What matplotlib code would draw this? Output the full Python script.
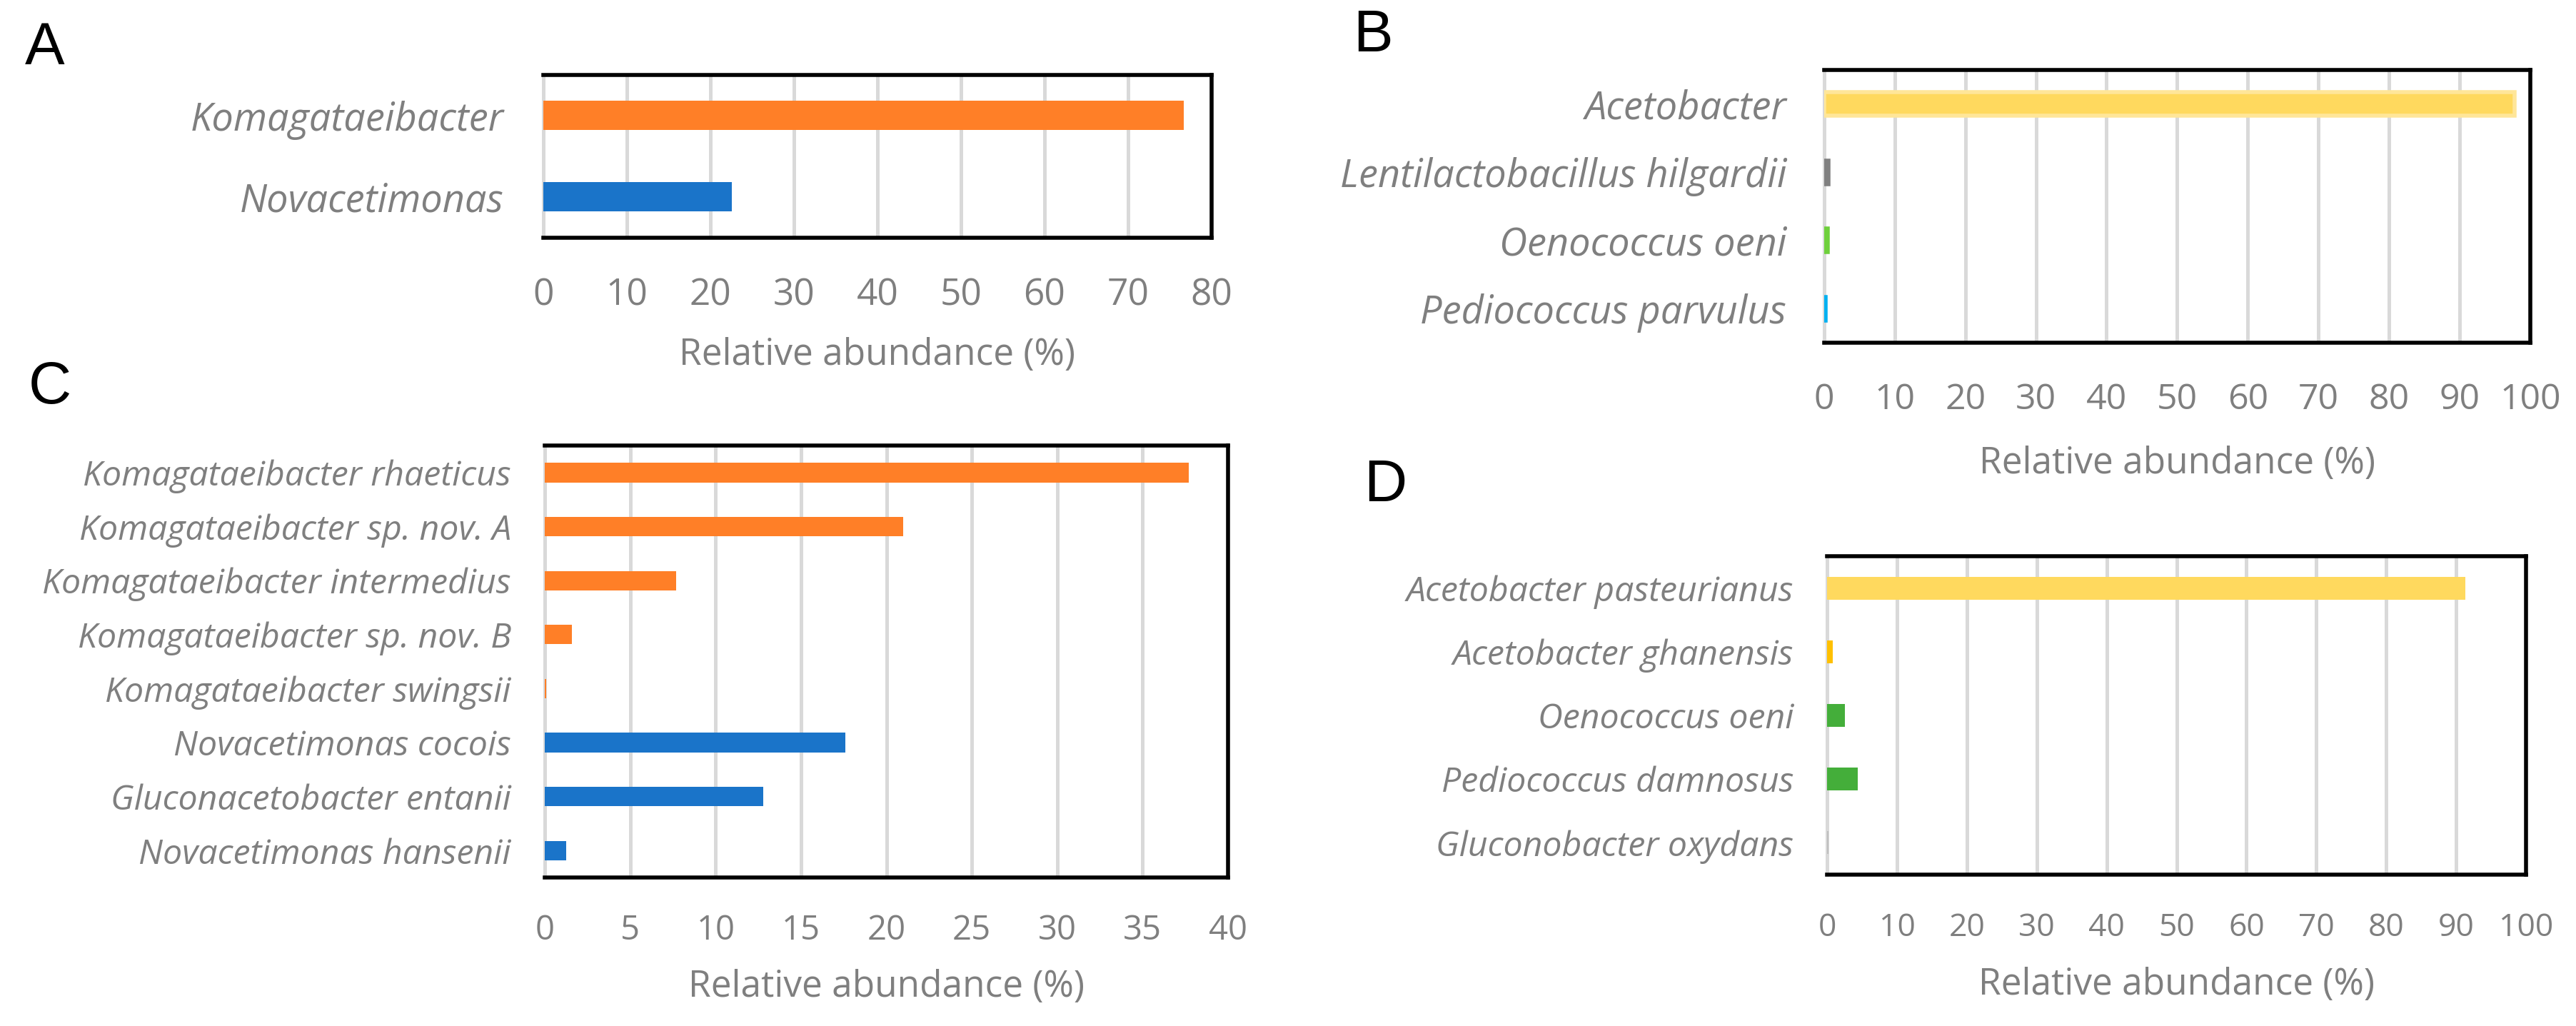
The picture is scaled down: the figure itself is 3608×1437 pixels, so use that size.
import matplotlib
matplotlib.use('Agg')
from matplotlib import pyplot as plt

# panel A
a_names = ['Komagataeibacter', 'Novacetimonas']
a_values = [76.7, 22.6]
a_colors = ['#FF7F27', '#1A74C9']

# panel B
b_names = ['Acetobacter', 'Lentilactobacillus hilgardii', 'Oenococcus oeni', 'Pediococcus parvulus']
b_values = [97.8, 0.6, 0.5, 0.2]
b_colors = ['#FFD95E', '#808080', '#6FD03C', '#00B0F0']

# panel C
c_names = ['Komagataeibacter rhaeticus', 'Komagataeibacter sp. nov. A', 'Komagataeibacter intermedius',
           'Komagataeibacter sp. nov. B', 'Komagataeibacter swingsii', 'Novacetimonas cocois',
           'Gluconacetobacter entanii', 'Novacetimonas hansenii']
c_values = [37.7, 21.0, 7.7, 1.6, 0.1, 17.6, 12.8, 1.25]
c_colors = ['#FF7F27'] * 5 + ['#1A74C9'] * 3

# panel D
d_names = ['Acetobacter pasteurianus', 'Acetobacter ghanensis', 'Oenococcus oeni',
           'Pediococcus damnosus', 'Gluconobacter oxydans']
d_values = [91.3, 0.8, 2.5, 4.4, 0.2]
d_colors = ['#FFD95E', '#FFC000', '#44AE3A', '#44AE3A', '#BFBFBF']

txt = '#7F7F7F'
font = ['Open Sans', 'DejaVu Sans']

fig = plt.figure(figsize=(18.04, 7.185), dpi=200)


def panel(rect, names, values, colors, xmax, step, fs, tfs, tpad, lpad, label_y, bar_h=0.36, edge=None):
    ax = fig.add_axes(rect)
    pos = range(len(names))
    if edge:
        ax.barh(pos, values, height=bar_h, color=colors, edgecolor=edge, linewidth=2, zorder=3)
    else:
        ax.barh(pos, values, height=bar_h, color=colors, zorder=3)
    ax.set_ylim(len(names) - 0.5, -0.5)
    ax.set_xlim(0, xmax)
    ax.set_xticks(range(0, xmax + 1, step))
    ax.set_yticks(list(pos))
    ax.set_yticklabels(names, fontstyle='italic', family=font, fontsize=fs, color=txt)
    for t in ax.get_xticklabels():
        t.set_family(font)
        t.set_fontsize(tfs)
        t.set_color(txt)
    ax.tick_params(axis='both', length=0)
    ax.tick_params(axis='x', pad=tpad)
    ax.tick_params(axis='y', pad=lpad)
    ax.grid(True, axis='x', color='#D9D9D9', linewidth=1.8, zorder=0)
    ax.set_axisbelow(True)
    for s in ['top', 'bottom', 'right']:
        ax.spines[s].set_linewidth(2)
        ax.spines[s].set_color('black')
    ax.spines['left'].set_color('#D9D9D9')
    ax.spines['left'].set_linewidth(1.8)
    ax.set_xlabel('Relative abundance (%)', family=font, fontsize=18.5, color=txt)
    ax.xaxis.set_label_coords(0.5, label_y)
    ax.xaxis.label.set_va('center')
    return ax


panel([0.2109, 0.7683, 0.2594, 0.1587], a_names, a_values, a_colors, 80, 10, 19.5, 18.5, 20, 20, -0.72)
panel([0.7081, 0.6660, 0.2741, 0.2658], b_names, b_values, b_colors, 100, 10, 19.5, 18, 20, 19, -0.445,
      bar_h=0.35, edge=['#FFE699', '#808080', '#6FD03C', '#00B0F0'])
panel([0.2115, 0.1447, 0.2652, 0.4210], c_names, c_values, c_colors, 40, 5, 17.4, 17, 18, 17, -0.253)
panel([0.7093, 0.1475, 0.2713, 0.3104], d_names, d_values, d_colors, 100, 10, 17.4, 16, 19, 17, -0.347)

for letter, x, y in [('A', 35, 68), ('B', 1895, 50), ('C', 40, 543), ('D', 1910, 680)]:
    fig.text(x / 3608, 1 - y / 1437, letter, fontsize=30, family='Liberation Sans',
             color='black', va='center', ha='left')

plt.savefig('out.png', dpi=200)
